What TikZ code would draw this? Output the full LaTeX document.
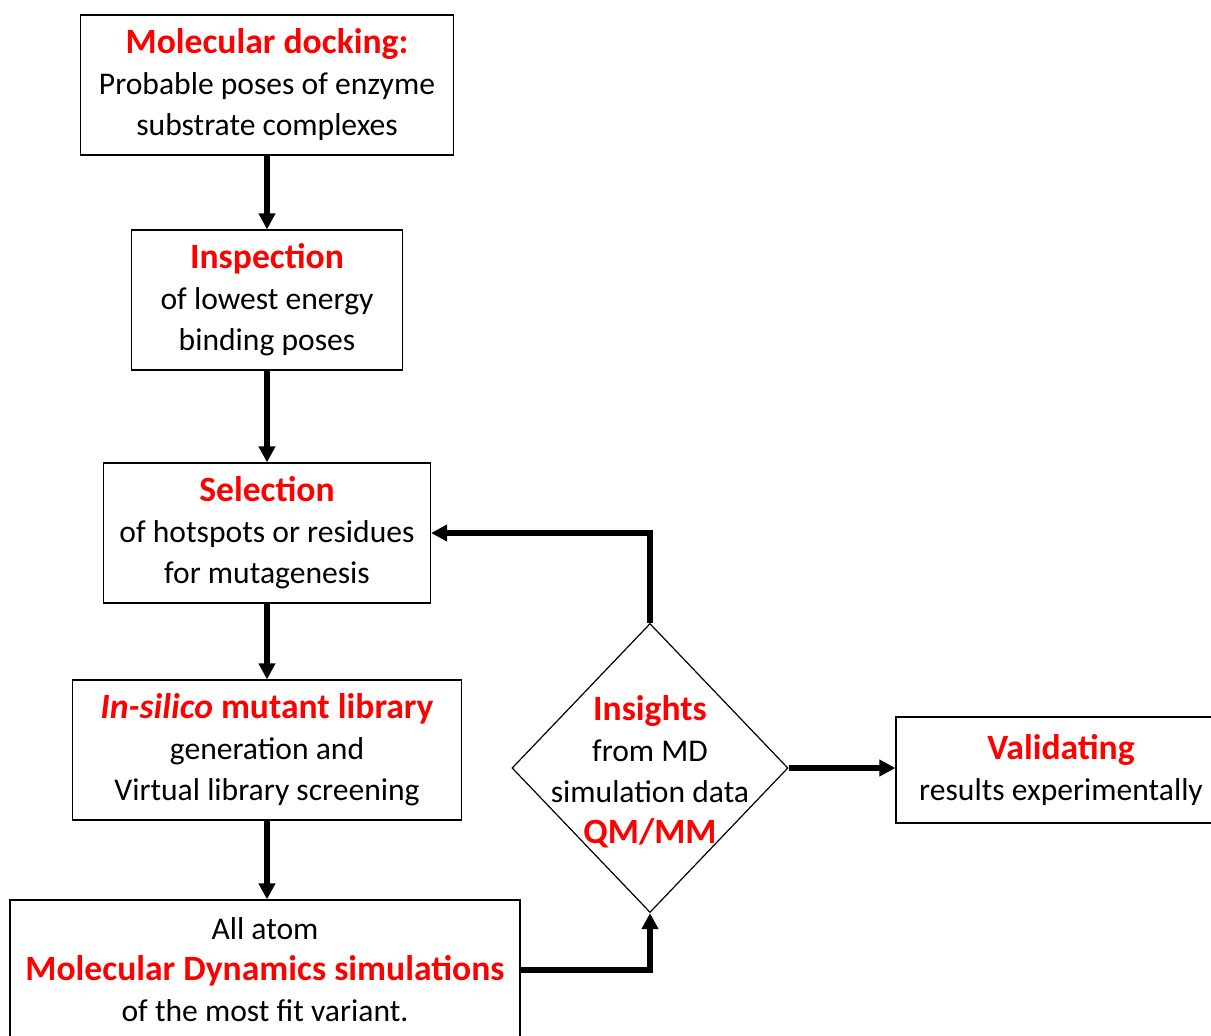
\documentclass[tikz,border=0pt]{standalone}
\usepackage{fontspec}
\setmainfont{Carlito}
\usetikzlibrary{positioning,shapes.geometric,arrows.meta}
\definecolor{hired}{RGB}{255,0,0}
\newcommand{\hd}[1]{{\fontsize{17.8}{20}\selectfont\textcolor{hired}{\textbf{#1}}}}

\begin{document}
\begin{tikzpicture}[x=0.5pt,y=-0.5pt]
\tikzstyle{every node}+=[inner sep=0pt, font=\fontsize{15.8}{20.5}\selectfont]
\tikzstyle{stage}=[draw, line width=0.6pt, align=center, minimum height=70pt]
\tikzstyle{flow}=[line width=2.8pt, -{Triangle[length=8pt,width=8pt]}]
\clip (0,0) rectangle (1211,1035);
% boxes of the pipeline
\node[stage, minimum width=186.5pt] (dock) at (267,85) {\hd{Molecular docking:}\\Probable poses of enzyme\\substrate complexes};
\node[stage, minimum width=135.5pt] (insp) at (267,300) {\hd{Inspection}\\of lowest energy\\binding poses};
\node[stage, minimum width=163.5pt] (sel) at (267,533) {\hd{Selection}\\of hotspots or residues\\for mutagenesis};
\node[stage, minimum width=194.5pt] (lib) at (267,750) {\hd{\textit{In-silico} mutant library}\\generation and\\Virtual library screening};
\node[stage, minimum width=255pt] (md) at (265,970) {All atom\\\hd{Molecular Dynamics simulations}\\of the most fit variant.};
\node[diamond, draw, line width=0.6pt, minimum width=138pt, minimum height=144.5pt] (ins) at (650,768) {};
\node[align=center] (instext) at (650,772) {\hd{Insights}\\from MD\\simulation data\\\hd{QM/MM}};
\node[stage, minimum width=165pt, minimum height=53pt] (val) at (1061,770) {\hd{Validating}\\results experimentally};
% arrows
\draw[flow] (dock.south) -- (insp.north);
\draw[flow] (insp.south) -- (sel.north);
\draw[flow] (sel.south) -- (lib.north);
\draw[flow] (lib.south) -- (lib.south |- md.north);
\draw[flow] (md.east) -| (ins.south);
\draw[flow] (ins.north) |- (sel.east);
\draw[flow] (ins.east) -- (ins.east -| val.west);
\end{tikzpicture}
\end{document}
